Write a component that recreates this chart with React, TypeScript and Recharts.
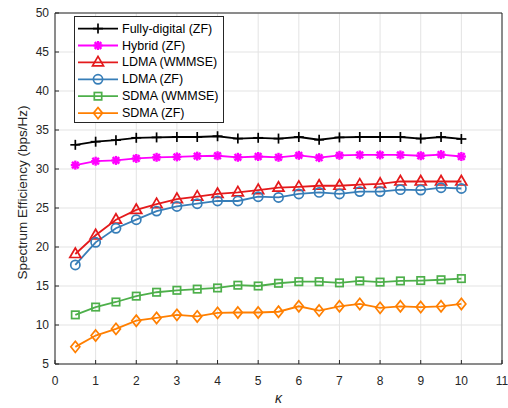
import React from "react";
import {
  CartesianGrid,
  Legend,
  Line,
  LineChart,
  XAxis,
  YAxis,
} from "recharts";

const kappa = [0.5, 1, 1.5, 2, 2.5, 3, 3.5, 4, 4.5, 5, 5.5, 6, 6.5, 7, 7.5, 8, 8.5, 9, 9.5, 10];

const fullyDigitalZF = [33.1, 33.5, 33.7, 34.0, 34.05, 34.1, 34.1, 34.2, 33.9, 34.0, 33.9, 34.1, 33.75, 34.05, 34.1, 34.1, 34.1, 33.9, 34.1, 33.85];
const hybridZF = [30.5, 31.0, 31.1, 31.35, 31.5, 31.55, 31.65, 31.7, 31.5, 31.6, 31.5, 31.75, 31.45, 31.75, 31.8, 31.8, 31.8, 31.7, 31.85, 31.6];
const ldmaWmmse = [19.1, 21.5, 23.5, 24.75, 25.5, 26.15, 26.45, 26.8, 27.0, 27.3, 27.6, 27.7, 27.85, 27.85, 28.0, 28.1, 28.4, 28.4, 28.4, 28.4];
const ldmaZF = [17.7, 20.6, 22.4, 23.5, 24.6, 25.2, 25.55, 25.9, 25.9, 26.45, 26.35, 26.8, 27.0, 26.8, 27.1, 27.1, 27.35, 27.3, 27.6, 27.5];
const sdmaWmmse = [11.3, 12.3, 12.95, 13.7, 14.2, 14.45, 14.6, 14.75, 15.1, 15.0, 15.35, 15.55, 15.55, 15.4, 15.65, 15.5, 15.65, 15.7, 15.8, 15.95];
const sdmaZF = [7.2, 8.65, 9.5, 10.55, 10.9, 11.3, 11.1, 11.55, 11.6, 11.6, 11.7, 12.4, 11.85, 12.4, 12.7, 12.2, 12.4, 12.3, 12.4, 12.7];

const xTicks = [0, 1, 2, 3, 4, 5, 6, 7, 8, 9, 10, 11];
const yTicks = [5, 10, 15, 20, 25, 30, 35, 40, 45, 50];

type Kind = "plus" | "star" | "triangle" | "circle" | "square" | "diamond";

const series: { key: string; name: string; color: string; kind: Kind; values: number[] }[] = [
  { key: "fd", name: "Fully-digital (ZF)", color: "#000000", kind: "plus", values: fullyDigitalZF },
  { key: "hy", name: "Hybrid (ZF)", color: "#ff00ff", kind: "star", values: hybridZF },
  { key: "lw", name: "LDMA (WMMSE)", color: "#e41a1c", kind: "triangle", values: ldmaWmmse },
  { key: "lz", name: "LDMA (ZF)", color: "#377eb8", kind: "circle", values: ldmaZF },
  { key: "sw", name: "SDMA (WMMSE)", color: "#4daf4a", kind: "square", values: sdmaWmmse },
  { key: "sz", name: "SDMA (ZF)", color: "#ff7f00", kind: "diamond", values: sdmaZF },
];

const data = kappa.map((k, i) => {
  const row: Record<string, number> = { k };
  series.forEach((s) => {
    row[s.key] = s.values[i];
  });
  return row;
});

const Marker = ({ kind, cx, cy, color }: { kind: Kind; cx: number; cy: number; color: string }) => {
  const sw = 1.7;
  switch (kind) {
    case "plus":
      return (
        <g stroke={color} strokeWidth={sw}>
          <line x1={cx - 5} y1={cy} x2={cx + 5} y2={cy} />
          <line x1={cx} y1={cy - 5} x2={cx} y2={cy + 5} />
        </g>
      );
    case "star":
      return (
        <g stroke={color} strokeWidth={2.4}>
          <line x1={cx - 4.5} y1={cy} x2={cx + 4.5} y2={cy} />
          <line x1={cx} y1={cy - 4.5} x2={cx} y2={cy + 4.5} />
          <line x1={cx - 3.3} y1={cy - 3.3} x2={cx + 3.3} y2={cy + 3.3} />
          <line x1={cx - 3.3} y1={cy + 3.3} x2={cx + 3.3} y2={cy - 3.3} />
        </g>
      );
    case "triangle":
      return (
        <polygon
          points={`${cx},${cy - 6} ${cx - 5.5},${cy + 3.5} ${cx + 5.5},${cy + 3.5}`}
          fill="none"
          stroke={color}
          strokeWidth={sw}
        />
      );
    case "circle":
      return <circle cx={cx} cy={cy} r={4.6} fill="none" stroke={color} strokeWidth={sw} />;
    case "square":
      return <rect x={cx - 3.7} y={cy - 3.7} width={7.4} height={7.4} fill="none" stroke={color} strokeWidth={sw} />;
    default:
      return (
        <polygon
          points={`${cx},${cy - 5.6} ${cx + 4.5},${cy} ${cx},${cy + 5.6} ${cx - 4.5},${cy}`}
          fill="none"
          stroke={color}
          strokeWidth={sw}
        />
      );
  }
};

const LegendBox = () => (
  <svg width={150} height={107} style={{ display: "block" }}>
    <rect x={0.5} y={0.5} width={149} height={106} fill="#ffffff" stroke="#262626" strokeWidth={1} />
    {series.map((s, i) => {
      const y = 12.6 + 16.9 * i;
      return (
        <g key={s.key}>
          <line x1={4} y1={y} x2={44} y2={y} stroke={s.color} strokeWidth={1.8} />
          <Marker kind={s.kind} cx={24} cy={y} color={s.color} />
          <text x={48} y={y} dominantBaseline="central" fontSize={12.5} fill="#000000">
            {s.name}
          </text>
        </g>
      );
    })}
  </svg>
);

const axisColor = "#262626";
const tickStyle = { fontSize: 12, fill: axisColor };

export default function App() {
  return (
    <div style={{ position: "absolute", left: 0, top: 0, fontFamily: "'Liberation Sans', Arial, sans-serif" }}>
      <LineChart
        width={508}
        height={408}
        data={data}
        margin={{ top: 12, right: 5, bottom: 0, left: 0 }}
      >
        <CartesianGrid stroke="#e3e3e3" strokeWidth={1} />
        <XAxis
          dataKey="k"
          type="number"
          domain={[0, 11]}
          ticks={xTicks}
          height={44}
          stroke={axisColor}
          tick={tickStyle}
          tickSize={-4}
          tickMargin={16}
          label={{ value: "κ", position: "insideBottom", offset: 5, style: { fontSize: 14, fontStyle: "italic", fill: axisColor } }}
        />
        <XAxis
          xAxisId="top"
          orientation="top"
          dataKey="k"
          type="number"
          domain={[0, 11]}
          ticks={xTicks}
          height={1}
          stroke={axisColor}
          tick={false}
          tickSize={-4}
        />
        <YAxis
          type="number"
          domain={[5, 50]}
          ticks={yTicks}
          width={55}
          stroke={axisColor}
          tick={tickStyle}
          tickSize={-4}
          tickMargin={10}
        />
        <YAxis
          yAxisId="right"
          orientation="right"
          type="number"
          domain={[5, 50]}
          ticks={yTicks}
          width={1}
          stroke={axisColor}
          tick={false}
          tickSize={-4}
        />
        <text
          x={22}
          y={192.5}
          transform="rotate(-90 22 192.5)"
          textAnchor="middle"
          dominantBaseline="central"
          fontSize={13.5}
          fill={axisColor}
        >
          Spectrum Efficiency (bps/Hz)
        </text>
        <Legend
          layout="vertical"
          align="center"
          verticalAlign="middle"
          wrapperStyle={{ left: 74, top: 16, width: 150 }}
          content={() => <LegendBox />}
        />
        {series.map((s) => (
          <Line
            key={s.key}
            dataKey={s.key}
            name={s.name}
            stroke={s.color}
            strokeWidth={1.8}
            isAnimationActive={false}
            dot={(p: any) => (
              <g key={`${s.key}-${p.index}`}>
                <Marker kind={s.kind} cx={p.cx} cy={p.cy} color={s.color} />
              </g>
            )}
            activeDot={false}
          />
        ))}
      </LineChart>
    </div>
  );
}
